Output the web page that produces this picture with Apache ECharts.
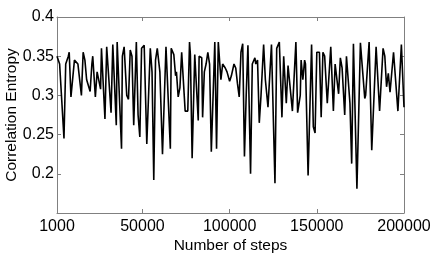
<!DOCTYPE html>
<html>
<head>
<meta charset="utf-8">
<script src="https://cdn.jsdelivr.net/npm/echarts@6/dist/echarts.min.js"></script>
<style>
html,body{margin:0;padding:0;background:#fff;}
#chart{width:436px;height:259px;}
</style>
</head>
<body>
<div id="chart"></div>
<script>
var steps = [1000,2500,5000,6000,7500,8000,9000,10000,11000,12000,
13000,15000,16000,17000,18000,18500,19000,20000,21000,21500,
23000,24000,25000,26000,26500,28500,29500,32000,33000,35000,
35500,38000,38500,39500,41000,42000,43000,44000,45000,46500,
47500,48500,49500,51000,52500,54500,55500,56500,57500,58500,
60000,61500,63500,66000,66500,68000,69000,69500,70500,71500,
72500,73500,74500,76000,77000,77500,78500,80000,81000,82000,
82500,84000,84500,85500,86500,87500,88500,89500,91500,92500,
93500,95000,96000,97500,98500,100000,101000,102500,103500,104500,
105500,106500,107500,108500,109500,110500,112000,113000,114500,115000,
116000,117000,118000,119500,120500,122000,124000,126000,127000,128500,
130000,131000,132500,133500,134000,136000,138000,139000,140500,141000,
142000,143000,143500,145000,147000,148000,149000,150000,151500,152500,
153500,154500,156000,158000,159500,160500,161500,162500,163500,164500,
166000,167000,168000,169000,170000,171000,172000,173000,175000,177500,
178000,180000,181500,184000,186000,188000,189000,190000,191000,192000,
194000,196500,198500,200000];

var entropy = [0.350,0.340,0.245,0.340,0.350,0.355,0.298,0.300,0.345,0.345,
0.340,0.300,0.355,0.345,0.320,0.322,0.318,0.305,0.340,0.350,
0.298,0.330,0.330,0.308,0.360,0.270,0.362,0.278,0.365,0.262,
0.368,0.232,0.350,0.362,0.300,0.295,0.358,0.350,0.262,0.368,
0.275,0.247,0.360,0.364,0.238,0.360,0.330,0.192,0.345,0.360,
0.330,0.225,0.362,0.232,0.360,0.352,0.325,0.330,0.298,0.310,
0.355,0.355,0.280,0.280,0.368,0.352,0.220,0.352,0.352,0.268,
0.350,0.348,0.272,0.330,0.340,0.355,0.340,0.228,0.368,0.232,
0.368,0.320,0.340,0.335,0.330,0.318,0.325,0.340,0.335,0.315,
0.298,0.355,0.366,0.222,0.300,0.364,0.200,0.340,0.348,0.340,
0.345,0.265,0.300,0.365,0.320,0.285,0.365,0.188,0.360,0.368,
0.272,0.350,0.290,0.338,0.340,0.280,0.368,0.278,0.300,0.345,
0.320,0.345,0.340,0.198,0.365,0.260,0.252,0.355,0.355,0.272,
0.355,0.350,0.290,0.362,0.280,0.340,0.340,0.302,0.348,0.335,
0.275,0.350,0.350,0.290,0.213,0.366,0.368,0.181,0.367,0.296,
0.300,0.368,0.230,0.362,0.280,0.360,0.350,0.311,0.328,0.304,
0.355,0.280,0.365,0.285];

var xTicks = [1000, 50000, 100000, 150000, 200000];
var yTicks = [0.2, 0.25, 0.3, 0.35, 0.4];
var xName = 'Number of steps';
var yName = 'Correlation Entropy';

var seriesData = steps.map(function (s, i) { return [s, entropy[i]]; });

var FONT = "'Liberation Sans', Arial, Helvetica, sans-serif";
var frameColor = '#808080';

function xAxisBase(pos, showLabels) {
  return {
    type: 'value', position: pos, min: 1000, max: 200000,
    axisLine: { show: true, onZero: false, lineStyle: { color: frameColor, width: 1 } },
    axisTick: { show: true, inside: true, length: 4, customValues: xTicks, lineStyle: { color: frameColor } },
    axisLabel: { show: showLabels, customValues: xTicks, margin: 6, color: '#000', fontSize: 16, fontFamily: FONT,
      formatter: function (v) { return String(v); } },
    splitLine: { show: false }
  };
}
function yAxisBase(pos, showLabels) {
  return {
    type: 'value', position: pos, min: 0.15, max: 0.4,
    axisLine: { show: true, onZero: false, lineStyle: { color: frameColor, width: 1 } },
    axisTick: { show: true, inside: true, length: 4, customValues: yTicks, lineStyle: { color: frameColor } },
    axisLabel: { show: showLabels, customValues: yTicks, margin: 3, color: '#000', fontSize: 16, fontFamily: FONT,
      formatter: function (v) { return String(+v.toFixed(2)); } },
    splitLine: { show: false }
  };
}

var xa0 = xAxisBase('bottom', true);
xa0.name = xName; xa0.nameLocation = 'middle'; xa0.nameGap = 25; xa0.nameMoveOverlap = false;
xa0.nameTextStyle = { color: '#000', fontSize: 15.5, fontFamily: FONT };
var ya0 = yAxisBase('left', true);
ya0.name = yName; ya0.nameLocation = 'middle'; ya0.nameGap = 37; ya0.nameMoveOverlap = false;
ya0.nameTextStyle = { color: '#000', fontSize: 15.5, fontFamily: FONT };

var chart = echarts.init(document.getElementById('chart'), null, { renderer: 'canvas' });
chart.setOption({
  backgroundColor: '#fff',
  animation: false,
  grid: { left: 57, right: 32, top: 17, bottom: 46, containLabel: false, outerBoundsMode: 'none' },
  xAxis: [xa0, xAxisBase('top', false)],
  yAxis: [ya0, yAxisBase('right', false)],
  series: [{
    type: 'line', xAxisIndex: 0, yAxisIndex: 0,
    data: seriesData, showSymbol: false, symbol: 'none',
    lineStyle: { color: '#000', width: 1.6 },
    emphasis: { disabled: true }
  }]
});
</script>
</body>
</html>
